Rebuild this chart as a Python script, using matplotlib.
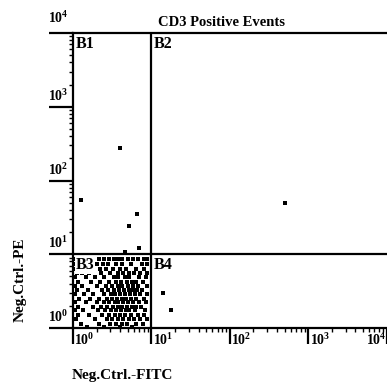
import matplotlib
matplotlib.use("Agg")
import matplotlib.pyplot as plt
import numpy as np

plt.rcParams['font.family'] = ['Liberation Serif', 'DejaVu Serif']
plt.rcParams['mathtext.fontset'] = 'custom'
plt.rcParams['mathtext.rm'] = 'Liberation Serif'
plt.rcParams['mathtext.bf'] = 'Liberation Serif:bold'

# ---- data (log10 units of the events) ----
title = "CD3 Positive Events"
x_label = "Neg.Ctrl.-FITC"
y_label = "Neg.Ctrl.-PE"
quadrant_names = ["B1", "B2", "B3", "B4"]
gate_x = 10.0
gate_y = 10.0
decades = [1, 10, 100, 1000, 10000]
decade_labels = [r"$\mathbf{10^{0}}$", r"$\mathbf{10^{1}}$", r"$\mathbf{10^{2}}$",
                 r"$\mathbf{10^{3}}$", r"$\mathbf{10^{4}}$"]

# dense population in B3, listed row by row: PE level and FITC levels (log10)
cloud_pe_levels = [0.94, 0.87, 0.80, 0.74, 0.69, 0.62, 0.57, 0.51, 0.46,
                   0.40, 0.35, 0.29, 0.24, 0.18, 0.12, 0.06, 0.02]
cloud_fitc_rows = [
    [0.03, 0.10, 0.14, 0.20, 0.26, 0.33, 0.40, 0.46, 0.52, 0.58, 0.63, 0.70, 0.77, 0.83, 0.90, 0.95],
    [0.04, 0.31, 0.38, 0.45, 0.55, 0.62, 0.74, 0.88, 0.94],
    [0.02, 0.34, 0.42, 0.51, 0.60, 0.68, 0.81, 0.91],
    [0.05, 0.12, 0.21, 0.36, 0.47, 0.57, 0.64, 0.71, 0.78, 0.86, 0.95],
    [0.03, 0.17, 0.28, 0.40, 0.52, 0.58, 0.66, 0.72, 0.84, 0.93],
    [0.07, 0.23, 0.35, 0.46, 0.55, 0.61, 0.69, 0.75, 0.80, 0.89],
    [0.02, 0.12, 0.30, 0.42, 0.50, 0.57, 0.63, 0.70, 0.77, 0.83, 0.94],
    [0.05, 0.19, 0.37, 0.45, 0.52, 0.59, 0.65, 0.71, 0.76, 0.82, 0.88],
    [0.03, 0.14, 0.26, 0.40, 0.48, 0.54, 0.60, 0.66, 0.73, 0.79, 0.86, 0.95],
    [0.08, 0.22, 0.33, 0.43, 0.50, 0.56, 0.62, 0.68, 0.74, 0.80, 0.90],
    [0.02, 0.16, 0.30, 0.39, 0.46, 0.53, 0.58, 0.64, 0.70, 0.77, 0.84, 0.93],
    [0.06, 0.25, 0.36, 0.44, 0.51, 0.57, 0.63, 0.69, 0.75, 0.81, 0.87],
    [0.03, 0.13, 0.32, 0.41, 0.48, 0.55, 0.61, 0.67, 0.72, 0.79, 0.92],
    [0.07, 0.21, 0.37, 0.46, 0.53, 0.60, 0.66, 0.74, 0.83, 0.90],
    [0.04, 0.28, 0.43, 0.50, 0.58, 0.64, 0.71, 0.78, 0.86, 0.95],
    [0.10, 0.33, 0.47, 0.55, 0.62, 0.69, 0.80, 0.89],
    [0.18, 0.40, 0.60, 0.75],
]
# scattered single events (log10)
sparse_fitc = [0.60, 0.10, 0.82, 0.71, 0.84, 0.66, 2.71, 1.15, 1.25]
sparse_pe = [2.44, 1.74, 1.55, 1.38, 1.08, 1.03, 1.69, 0.47, 0.24]

cloud_fitc = [x for row in cloud_fitc_rows for x in row]
cloud_pe = [lvl for lvl, row in zip(cloud_pe_levels, cloud_fitc_rows) for _ in row]

fig = plt.figure(figsize=(3.87, 3.84), dpi=100)
ax = fig.add_axes([73 / 387, 1 - 328 / 384, 313.5 / 387, 295 / 384])
ax.set_xscale('log')
ax.set_yscale('log')
ax.set_xlim(1, 10000)
ax.set_ylim(1, 10000)

ax.scatter(10 ** np.array(cloud_fitc), 10 ** np.array(cloud_pe), s=8, marker='s',
           color='black', linewidths=0, zorder=3)
ax.scatter(10 ** np.array(sparse_fitc), 10 ** np.array(sparse_pe), s=5, marker='s',
           color='black', linewidths=0, zorder=3)

# gates
ax.axvline(gate_x, color='black', lw=1.6, zorder=4)
ax.axhline(gate_y, color='black', lw=1.6, zorder=4)

for side in ['left', 'top', 'bottom']:
    ax.spines[side].set_linewidth(1.6)
ax.spines['right'].set_visible(False)

ax.set_xticks(decades)
ax.set_yticks(decades)
ax.set_xticklabels([])
ax.set_yticklabels([])
ax.tick_params(axis='y', which='major', direction='out', length=17, width=1.6)
ax.tick_params(axis='x', which='major', direction='out', length=11.5, width=1.6)
ax.tick_params(axis='both', which='minor', direction='out', length=3, width=1.0)

# tick labels
for d, lab in zip(decades, decade_labels):
    ha = 'right' if d == decades[-1] else 'left'
    ax.annotate(lab, xy=(d, 0), xycoords=('data', 'axes fraction'),
                xytext=(1 if ha == 'left' else 0, -3), textcoords='offset points',
                ha=ha, va='top', fontsize=10)
    ax.annotate(lab, xy=(0, d), xycoords=('axes fraction', 'data'),
                xytext=(-3, 2 if d != decades[-1] else 5), textcoords='offset points',
                ha='right', va='bottom', fontsize=10)

# quadrant labels
qpos = [(1, 10000), (10, 10000), (1, 10), (10, 10)]
for name, (qx, qy) in zip(quadrant_names, qpos):
    ax.annotate(name, xy=(qx, qy), xytext=(2, -2), textcoords='offset points',
                ha='left', va='top', fontsize=11.5, fontweight='bold', zorder=5,
                bbox=dict(facecolor='white', edgecolor='none', pad=0.3))

fig.text(222 / 387, 1 - 22 / 384, title, ha='center', va='center',
         fontsize=10.5, fontweight='bold')
fig.text(72 / 387, 1 - 376 / 384, x_label, ha='left', va='center',
         fontsize=11, fontweight='bold')
fig.text(20 / 387, 1 - 280 / 384, y_label, ha='center', va='center',
         rotation=90, fontsize=11, fontweight='bold')

fig.savefig('out.png', dpi=100)
